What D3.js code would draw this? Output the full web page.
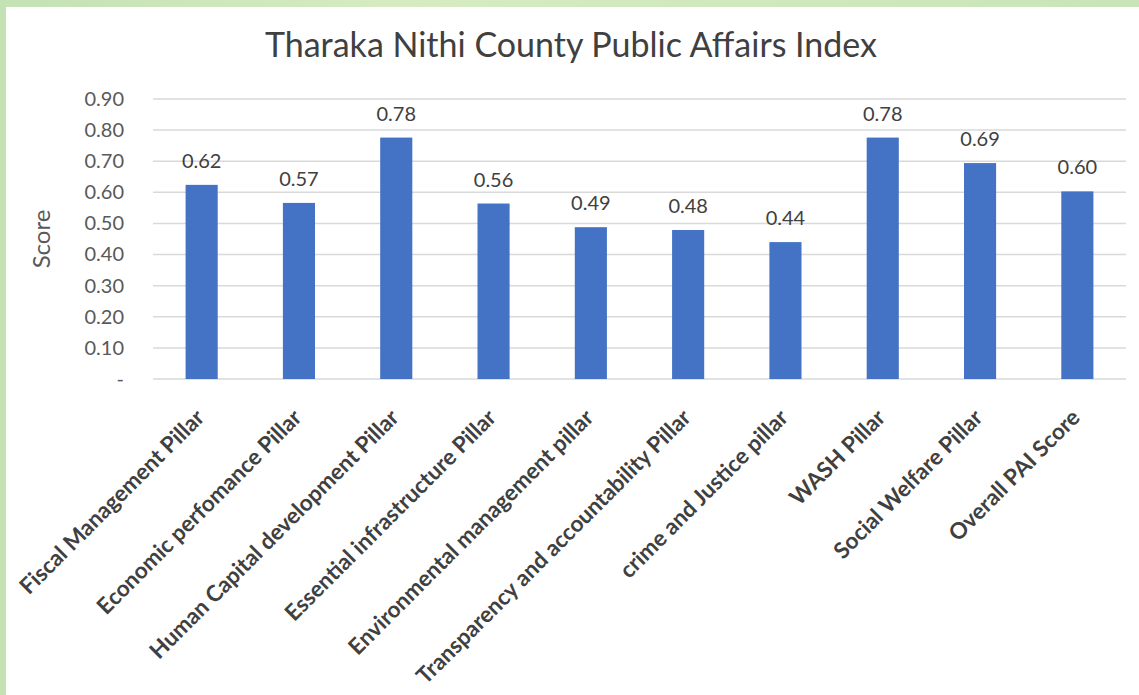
<!DOCTYPE html>
<html>
<head>
<meta charset="utf-8">
<script src="https://cdn.jsdelivr.net/npm/d3@7"></script>
<style>
  html, body { margin: 0; padding: 0; background: #c9e4b9; }
  #chart { width: 1139px; height: 695px; }
  text { font-family: Lato, "Open Sans", sans-serif; }
</style>
</head>
<body>
<div id="chart"></div>
<script>
// ----------------------------------
// DATA
// ----------------------------------
const categories = [
	"Fiscal Management Pillar",
	"Economic perfomance Pillar",
	"Human Capital development Pillar",
	"Essential infrastructure Pillar",
	"Environmental management pillar",
	"Transparency and accountability Pillar",
	"crime and Justice pillar",
	"WASH Pillar",
	"Social Welfare Pillar",
	"Overall PAI Score"
];
const scores = [0.624, 0.566, 0.776, 0.564, 0.488, 0.479, 0.440, 0.776, 0.694, 0.603];
const tickValues = [0, 0.1, 0.2, 0.3, 0.4, 0.5, 0.6, 0.7, 0.8, 0.9];
const tickLabels = ["-", "0.10", "0.20", "0.30", "0.40", "0.50", "0.60", "0.70", "0.80", "0.90"];

const width = 1139, height = 695;
const margin = {top: 99, right: 13, bottom: 316, left: 153};
const innerWidth = width - margin.left - margin.right;
const innerHeight = height - margin.top - margin.bottom;

const svg = d3.select('#chart').append('svg')
	.attr('width', width)
	.attr('height', height);

// green frame background
const defs = svg.append('defs');
const grad = defs.append('linearGradient').attr('id', 'bg').attr('x1', 0).attr('y1', 0).attr('x2', 1).attr('y2', 0);
grad.append('stop').attr('offset', '0%').attr('stop-color', '#c4e2b4');
grad.append('stop').attr('offset', '35%').attr('stop-color', '#d6ebc2');
grad.append('stop').attr('offset', '100%').attr('stop-color', '#c9e5b8');
svg.append('rect').attr('width', width).attr('height', height).attr('fill', 'url(#bg)');
svg.append('rect').attr('x', 6).attr('y', 7).attr('width', width - 6).attr('height', height - 7).attr('fill', '#ffffff');

// ----------------------------------
// SCALES
// ----------------------------------
const x = d3.scaleBand()
	.domain(categories)
	.range([0, innerWidth])
	.paddingInner(0.67)
	.paddingOuter(0.335);

const y = d3.scaleLinear()
	.domain([0, 0.9])
	.range([innerHeight, 0]);

const g = svg.append('g').attr('transform', `translate(${margin.left},${margin.top})`);

// gridlines
g.append('g')
	.selectAll('line')
	.data(tickValues)
	.join('line')
	.attr('x1', 0)
	.attr('x2', innerWidth)
	.attr('y1', d => y(d))
	.attr('y2', d => y(d))
	.attr('stroke', '#d9d9d9')
	.attr('stroke-width', 1.5);

// y axis labels
const yAxis = d3.axisLeft(y)
	.tickValues(tickValues)
	.tickFormat((d, i) => tickLabels[i])
	.tickSize(0)
	.tickPadding(29);

g.append('g')
	.call(yAxis)
	.call(a => a.select('.domain').remove())
	.call(a => a.selectAll('text')
		.attr('font-family', 'Lato, "Open Sans", sans-serif')
		.attr('font-size', 20)
		.attr('fill', '#595959'));

// bars
g.append('g')
	.selectAll('rect')
	.data(scores)
	.join('rect')
	.attr('x', (d, i) => x(categories[i]))
	.attr('y', d => y(d))
	.attr('width', x.bandwidth())
	.attr('height', d => innerHeight - y(d))
	.attr('fill', '#4472c4');

// value labels
g.append('g')
	.selectAll('text')
	.data(scores)
	.join('text')
	.attr('x', (d, i) => x(categories[i]) + x.bandwidth() / 2)
	.attr('y', d => y(d) - 17)
	.attr('text-anchor', 'middle')
	.attr('font-size', 20)
	.attr('fill', '#404040')
	.text(d => d.toFixed(2));

// x axis labels
const xAxis = d3.axisBottom(x).tickSize(0).tickPadding(0);
g.append('g')
	.attr('transform', `translate(0,${innerHeight})`)
	.call(xAxis)
	.call(a => a.select('.domain').remove())
	.call(a => a.selectAll('text')
		.attr('font-family', 'Lato, "Open Sans", sans-serif')
		.attr('font-size', 22.5)
		.attr('font-weight', 700)
		.attr('fill', '#404040')
		.attr('text-anchor', 'end')
		.attr('dy', 0)
		.attr('transform', 'translate(4,40) rotate(-45)'));

// axis title
svg.append('text')
	.attr('transform', `translate(50,${margin.top + innerHeight / 2}) rotate(-90)`)
	.attr('text-anchor', 'middle')
	.attr('font-size', 24)
	.attr('fill', '#595959')
	.text('Score');

// chart title
svg.append('text')
	.attr('x', 571)
	.attr('y', 57)
	.attr('text-anchor', 'middle')
	.attr('font-size', 34)
	.attr('fill', '#404040')
	.text('Tharaka Nithi County Public Affairs Index');
</script>
</body>
</html>
